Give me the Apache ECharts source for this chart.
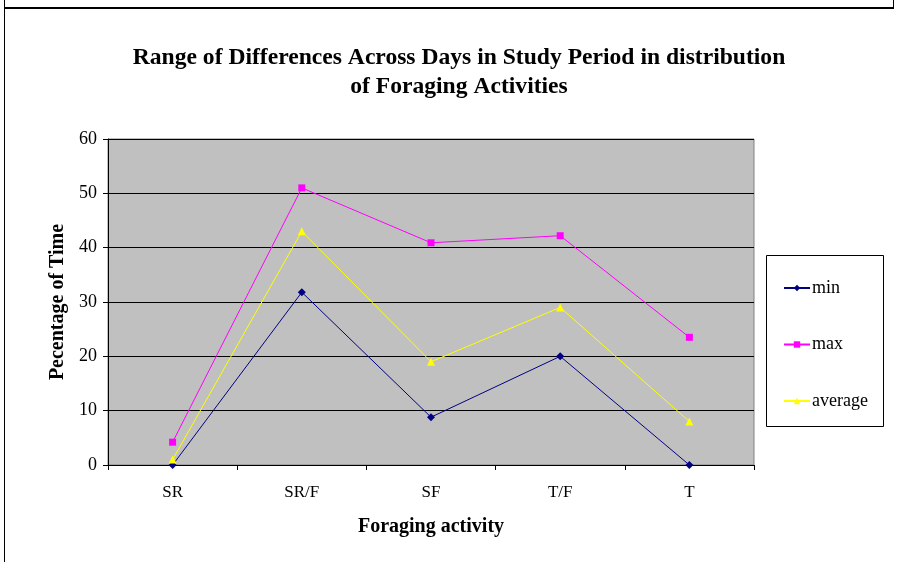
<!DOCTYPE html>
<html>
<head>
<meta charset="utf-8">
<script src="https://cdn.jsdelivr.net/npm/echarts@6/dist/echarts.min.js"></script>
<style>
  html, body { margin: 0; padding: 0; background: #fff; }
  #chart { width: 898px; height: 562px; }
</style>
</head>
<body>
<div id="chart"></div>
<script>
// values
const categories = ['SR', 'SR/F', 'SF', 'T/F', 'T'];
const minValues = [0, 31.8, 8.8, 20, 0];
const maxValues = [4.2, 51, 40.9, 42.2, 23.5];
const avgValues = [1, 43, 19, 29, 8];
const yTicks = [0, 10, 20, 30, 40, 50, 60];

const serif = '"Liberation Serif", "DejaVu Serif", serif';
const chart = echarts.init(document.getElementById('chart'));

const line = (name, data, color, symbol, size) => ({
    name: name,
    type: 'line',
    data: data,
    symbol: symbol,
    symbolSize: size,
    lineStyle: { color: color, width: 1 },
    itemStyle: { color: color },
    emphasis: { disabled: true },
    animation: false
});

chart.setOption({
    backgroundColor: '#fff',
    animation: false,
    title: {
        text: 'Range of Differences Across Days in Study Period in distribution\nof Foraging Activities',
        left: 454,
        textAlign: 'center',
        top: 38,
        textStyle: { fontFamily: serif, fontSize: 23.6, fontWeight: 'bold', color: '#000', lineHeight: 29 }
    },
    legend: {
        orient: 'vertical',
        left: 778,
        top: 274,
        itemWidth: 26,
        itemHeight: 8,
        itemGap: 38.5,
        data: ['min', 'max', 'average'],
        textStyle: { fontFamily: serif, fontSize: 18, color: '#000', padding: [0, 0, 0, -3] }
    },
    grid: {
        left: 108, right: 144, top: 139, bottom: 97,
        show: true, backgroundColor: '#c0c0c0', borderColor: '#808080', borderWidth: 1
    },
    xAxis: {
        type: 'category',
        data: categories,
        boundaryGap: true,
        name: 'Foraging activity',
        nameLocation: 'middle',
        nameGap: 52,
        nameTextStyle: { fontFamily: serif, fontSize: 20, fontWeight: 'bold', color: '#000' },
        axisLine: { lineStyle: { color: '#000', width: 1 } },
        axisTick: { show: true, length: 5, interval: 0, lineStyle: { color: '#000' } },
        axisLabel: { fontFamily: serif, fontSize: 17, color: '#000', margin: 19 }
    },
    yAxis: {
        type: 'value',
        min: yTicks[0],
        max: yTicks[yTicks.length - 1],
        interval: 10,
        name: 'Pecentage of Time',
        nameLocation: 'middle',
        nameGap: 38,
        nameTextStyle: { fontFamily: serif, fontSize: 20, fontWeight: 'bold', color: '#000' },
        axisLine: { show: true, lineStyle: { color: '#000', width: 1 } },
        axisTick: { show: true, length: 5, lineStyle: { color: '#000' } },
        axisLabel: { fontFamily: serif, fontSize: 18, color: '#000', margin: 11 },
        splitLine: { show: true, lineStyle: { color: '#000', width: 1 } }
    },
    series: [
        line('min', minValues, '#000080', 'diamond', 8),
        line('max', maxValues, '#ff00ff', 'rect', 7),
        line('average', avgValues, '#ffff00', 'triangle', 8)
    ],
    graphic: [
        // legend frame
        { type: 'rect', left: 764, top: 253, shape: { width: 117, height: 171 },
          style: { fill: 'none', stroke: '#000', lineWidth: 1 }, z: 0, silent: true },
        // outer cell border
        { type: 'line', shape: { x1: 4, y1: 8, x2: 894, y2: 8 }, style: { stroke: '#000', lineWidth: 2 }, silent: true },
        { type: 'line', shape: { x1: 4.5, y1: 0, x2: 4.5, y2: 562 }, style: { stroke: '#000', lineWidth: 1 }, silent: true },
        { type: 'line', shape: { x1: 893.5, y1: 0, x2: 893.5, y2: 8 }, style: { stroke: '#000', lineWidth: 1 }, silent: true }
    ]
});
</script>
</body>
</html>
